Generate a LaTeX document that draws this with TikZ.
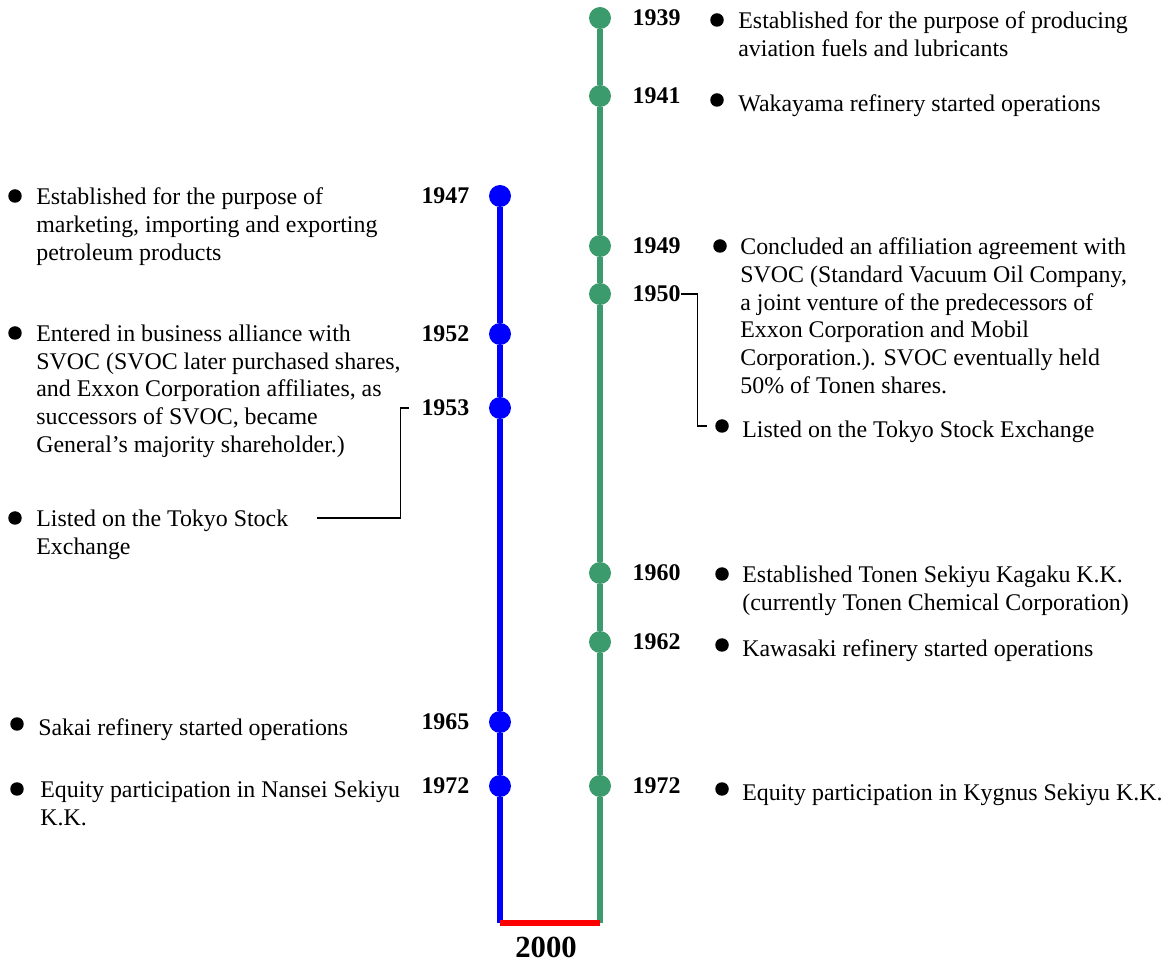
\documentclass[tikz,border=0pt]{standalone}
\usepackage{fontspec}
\setmainfont{Liberation Serif}
\usetikzlibrary{positioning}
\definecolor{tgreen}{RGB}{60,155,108}

\begin{document}
\begin{tikzpicture}[x=0.02cm, y=-0.02cm,
  dot/.style={circle, fill=#1, inner sep=0pt, minimum size=0.44cm},
  yr/.style={font=\fontsize{13.6}{16}\selectfont\bfseries, inner sep=0pt},
  ev/.style={font=\fontsize{13.6}{15.8}\selectfont, align=left, inner sep=0pt,
             anchor=north west, execute at begin node=\strut},
  bul/.style={circle, fill=black, inner sep=0pt, minimum size=0.27cm},
  tl/.style={line width=3.4pt},
  br/.style={line width=0.7pt}
]
  \useasboundingbox (0,0) rectangle (1174,962);

  % green line (right company)
  \node[dot=tgreen] (g39) at (600,18)  {};
  \node[dot=tgreen] (g41) at (600,96)  {};
  \node[dot=tgreen] (g49) at (600,246) {};
  \node[dot=tgreen] (g50) at (600,294) {};
  \node[dot=tgreen] (g60) at (600,573) {};
  \node[dot=tgreen] (g62) at (600,642) {};
  \node[dot=tgreen] (g72) at (600,786) {};
  \coordinate (gend) at (600,923);

  % blue line (left company)
  \node[dot=blue] (b47) at (500,196) {};
  \node[dot=blue] (b52) at (500,334) {};
  \node[dot=blue] (b53) at (500,408) {};
  \node[dot=blue] (b65) at (500,722) {};
  \node[dot=blue] (b72) at (500,786) {};
  \coordinate (bend) at (500,923);

  \draw[tl, tgreen] (g39)--(g41)--(g49)--(g50)--(g60)--(g62)--(g72)--(gend);
  \draw[tl, blue] (b47)--(b52)--(b53)--(b65)--(b72)--(bend);
  \draw[tl, red] (bend)--(gend);
  \node[yr, font=\fontsize{17.5}{20}\selectfont\bfseries] (y00) at (546,947) {2000};

  % years
  \node[yr, right=0.42cm of g39] (y39) {1939};
  \node[yr, right=0.42cm of g41] (y41) {1941};
  \node[yr, right=0.42cm of g49] (y49) {1949};
  \node[yr, right=0.42cm of g50] (y50) {1950};
  \node[yr, right=0.42cm of g60] (y60) {1960};
  \node[yr, right=0.42cm of g62] (y62) {1962};
  \node[yr, right=0.42cm of g72] (y72r) {1972};
  \node[yr, left=0.38cm of b47] (y47) {1947};
  \node[yr, left=0.38cm of b52] (y52) {1952};
  \node[yr, left=0.38cm of b53] (y53) {1953};
  \node[yr, left=0.38cm of b65] (y65) {1965};
  \node[yr, left=0.38cm of b72] (y72l) {1972};

  % events, right
  \node[bul] (r39) at (717,20) {};
  \node[ev] (e39) at (738,11.5) {Established for the purpose of producing\\aviation fuels and lubricants};
  \node[bul] (r41) at (717,100) {};
  \node[ev] (e41) at (738,91.5) {Wakayama refinery started operations};
  \node[bul] (r49) at (720,246) {};
  \node[ev] (e49) at (740,237.5) {Concluded an affiliation agreement with\\SVOC (Standard Vacuum Oil Company,\\a joint venture of the predecessors of\\Exxon Corporation and Mobil\\Corporation.). SVOC eventually held\\50\% of Tonen shares.};
  \node[bul] (r50) at (722,426) {};
  \node[ev] (e50) at (742,417.5) {Listed on the Tokyo Stock Exchange};
  \node[bul] (r60) at (722,574) {};
  \node[ev] (e60) at (742,565.5) {Established Tonen Sekiyu Kagaku K.K.\\(currently Tonen Chemical Corporation)};
  \node[bul] (r62) at (722,645) {};
  \node[ev] (e62) at (742,636.5) {Kawasaki refinery started operations};
  \node[bul] (r72) at (722,789) {};
  \node[ev] (e72r) at (742,780.5) {Equity participation in Kygnus Sekiyu K.K.};

  % events, left
  \node[bul] (l47) at (15,196) {};
  \node[ev] (e47) at (36,187.5) {Established for the purpose of\\marketing, importing and exporting\\petroleum products};
  \node[bul] (l52) at (15,333) {};
  \node[ev] (e52) at (36,324.5) {Entered in business alliance with\\SVOC (SVOC later purchased shares,\\and Exxon Corporation affiliates, as\\successors of SVOC, became\\General’s majority shareholder.)};
  \node[bul] (l53) at (15,518) {};
  \node[ev] (e53) at (36,509.5) {Listed on the Tokyo Stock\\Exchange};
  \node[bul] (l65) at (17,724) {};
  \node[ev] (e65) at (38,715.5) {Sakai refinery started operations};
  \node[bul] (l72) at (17,789) {};
  \node[ev] (e72l) at (40,780.5) {Equity participation in Nansei Sekiyu\\K.K.};

  % brackets
  \coordinate (c53) at (317,518);
  \draw[br, shorten <=0.24cm] (y53.west) -- ++(-21,0) |- (c53);
  \draw[br, shorten >=0.16cm] (y50.east) -- ++(17,0) |- (r50.west);
\end{tikzpicture}
\end{document}
